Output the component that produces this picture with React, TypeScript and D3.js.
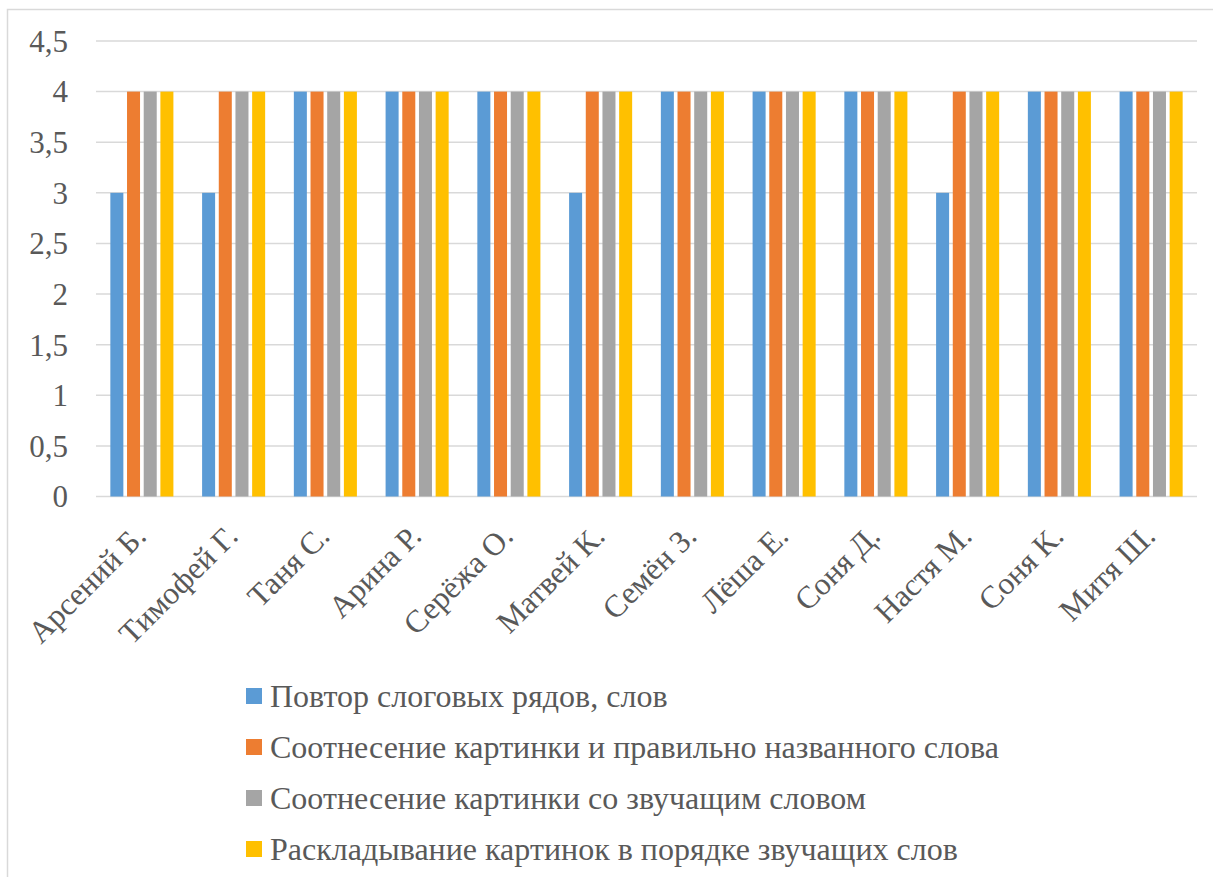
import React from "react";
import * as d3 from "d3";

const categories = [
  "Арсений Б.", "Тимофей Г.", "Таня С.", "Арина Р.", "Серёжа О.", "Матвей К.",
  "Семён З.", "Лёша Е.", "Соня Д.", "Настя М.", "Соня К.", "Митя Ш.",
];

const seriesNames = [
  "Повтор слоговых рядов, слов",
  "Соотнесение картинки и правильно названного слова",
  "Соотнесение картинки со звучащим словом",
  "Раскладывание картинок в порядке звучащих слов",
];

const repeatSyllables = [3, 3, 4, 4, 4, 3, 4, 4, 4, 3, 4, 4];
const matchNamedWord = [4, 4, 4, 4, 4, 4, 4, 4, 4, 4, 4, 4];
const matchSoundingWord = [4, 4, 4, 4, 4, 4, 4, 4, 4, 4, 4, 4];
const arrangePictures = [4, 4, 4, 4, 4, 4, 4, 4, 4, 4, 4, 4];

const seriesValues = [repeatSyllables, matchNamedWord, matchSoundingWord, arrangePictures];
const colors = ["#5b9bd5", "#ed7d31", "#a5a5a5", "#ffc000"];

const yTicks = [0, 0.5, 1, 1.5, 2, 2.5, 3, 3.5, 4, 4.5];
const fmt = (v: number) => String(v).replace(".", ",");

export default function App() {
  const W = 1213, H = 877;
  const plot = { left: 96, right: 1197, top: 41, bottom: 496.5 };

  const x = d3.scaleBand<string>().domain(categories).range([plot.left, plot.right]);
  const y = d3.scaleLinear().domain([0, 4.5]).range([plot.bottom, plot.top]);
  const step = x.bandwidth() / 5.5;
  const inner = d3.scaleBand<number>()
    .domain([0, 1, 2, 3])
    .range([step * 0.75, step * 4.75])
    .paddingInner(0.22)
    .paddingOuter(0.11);

  const textColor = "#595959";
  const textStyle = { fontFamily: '"Liberation Serif"' };

  return (
    <svg width={W} height={H} fontFamily="Liberation Serif"
      style={{ position: "absolute", left: 0, top: 0, background: "#fff" }}>
      <rect x={7.5} y={9.5} width={1230} height={900} fill="#fff" stroke="#d9d9d9" strokeWidth={1.5} />
      {yTicks.map((t) => (
        <g key={t}>
          <line x1={plot.left} x2={plot.right} y1={y(t)} y2={y(t)} stroke="#d9d9d9" strokeWidth={1.5} />
          <text x={68} y={y(t)} dy="0.35em" textAnchor="end" fontSize={31} fill={textColor}
            style={textStyle}>{fmt(t)}</text>
        </g>
      ))}
      {categories.map((c, ci) => (
        <g key={c}>
          {seriesValues.map((vals, si) => (
            <rect key={si}
              x={(x(c) as number) + (inner(si) as number)}
              width={inner.bandwidth()}
              y={y(vals[ci])}
              height={y(0) - y(vals[ci])}
              fill={colors[si]} />
          ))}
          <text
            transform={`translate(${(x(c) as number) + x.bandwidth() / 2 + 6},${538}) rotate(-45)`}
            textAnchor="end" fontSize={31.5} fill={textColor} style={textStyle}>{c}</text>
        </g>
      ))}
      {seriesNames.map((n, i) => {
        const cy = 696 + i * 51;
        return (
          <g key={n}>
            <rect x={246} y={cy - 8} width={16} height={16} fill={colors[i]} />
            <text x={270} y={cy} dy="0.35em" fontSize={32} fill={textColor} style={textStyle}>{n}</text>
          </g>
        );
      })}
    </svg>
  );
}
